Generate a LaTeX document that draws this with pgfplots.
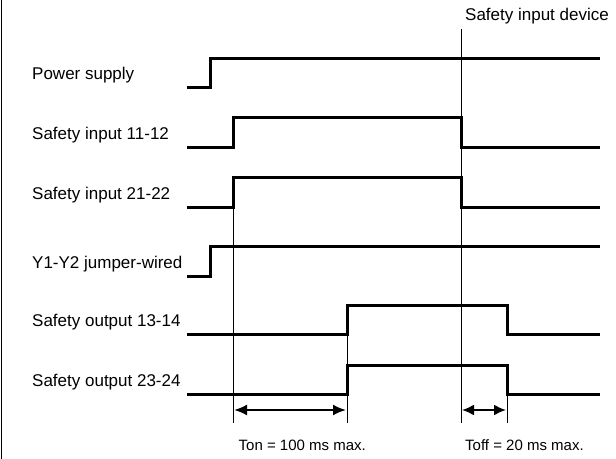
\documentclass[border=0pt]{standalone}
\usepackage{fontspec}
\setmainfont{Liberation Sans}
\usepackage{pgfplots}
\pgfplotsset{compat=1.18}
\usetikzlibrary{arrows.meta}
\begin{document}
\begin{tikzpicture}
\useasboundingbox (0,0) rectangle (616bp,459bp);
\begin{axis}[
  at={(0,0)}, anchor=south west,
  width=616bp, height=459bp, scale only axis,
  xmin=0, xmax=616, ymin=0, ymax=459, y dir=reverse,
  hide axis, clip=false,
  every axis plot/.append style={black, mark=none},
]
% left frame line
\addplot[line width=1.6bp] coordinates {(1.5,0) (1.5,459)};
% thin timing lines
\addplot[line width=0.9bp] coordinates {(233,207) (233,423)};
\addplot[line width=0.9bp] coordinates {(461.5,29) (461.5,423)};
\addplot[line width=0.9bp] coordinates {(347,334) (347,423)};
\addplot[line width=0.9bp] coordinates {(507,394) (507,423)};
% signals
\addplot[line width=3bp] coordinates {(187,88) (210,88) (210,59) (600,59)};
\addplot[line width=3bp] coordinates {(187,147) (233,147) (233,117.5) (461.5,117.5) (461.5,147) (600,147)};
\addplot[line width=3bp] coordinates {(187,207) (233,207) (233,177.5) (461.5,177.5) (461.5,207) (600,207)};
\addplot[line width=3bp] coordinates {(187,276) (210,276) (210,246) (600,246)};
\addplot[line width=3bp] coordinates {(187,334) (347,334) (347,305.5) (507,305.5) (507,334) (600,334)};
\addplot[line width=3bp] coordinates {(187,394) (347,394) (347,365) (507,365) (507,394) (600,394)};
% time arrows
\addplot[line width=2bp, {Latex[length=13bp,width=11bp]}-{Latex[length=13bp,width=11bp]}] coordinates {(234,410) (346,410)};
\addplot[line width=2bp, {Latex[length=12bp,width=11bp]}-{Latex[length=12bp,width=11bp]}] coordinates {(462,410) (506,410)};
% labels
\begin{scope}[every node/.style={inner sep=0pt, anchor=base west, font=\fontsize{17bp}{20bp}\selectfont}]
\node at (axis cs:32,80) {Power supply};
\node at (axis cs:32,139.5) {Safety input 11-12};
\node at (axis cs:32,199) {Safety input 21-22};
\node at (axis cs:32,268) {Y1-Y2 jumper-wired};
\node at (axis cs:32,326) {Safety output 13-14};
\node at (axis cs:32,386.5) {Safety output 23-24};
\node at (axis cs:465,20.7) {Safety input device};
\end{scope}
\begin{scope}[every node/.style={inner sep=0pt, anchor=base west, font=\fontsize{15bp}{18bp}\selectfont}]
\node at (axis cs:238.5,450) {Ton = 100 ms max.};
\node at (axis cs:465,450) {Toff = 20 ms max.};
\end{scope}
\end{axis}
\end{tikzpicture}
\end{document}
